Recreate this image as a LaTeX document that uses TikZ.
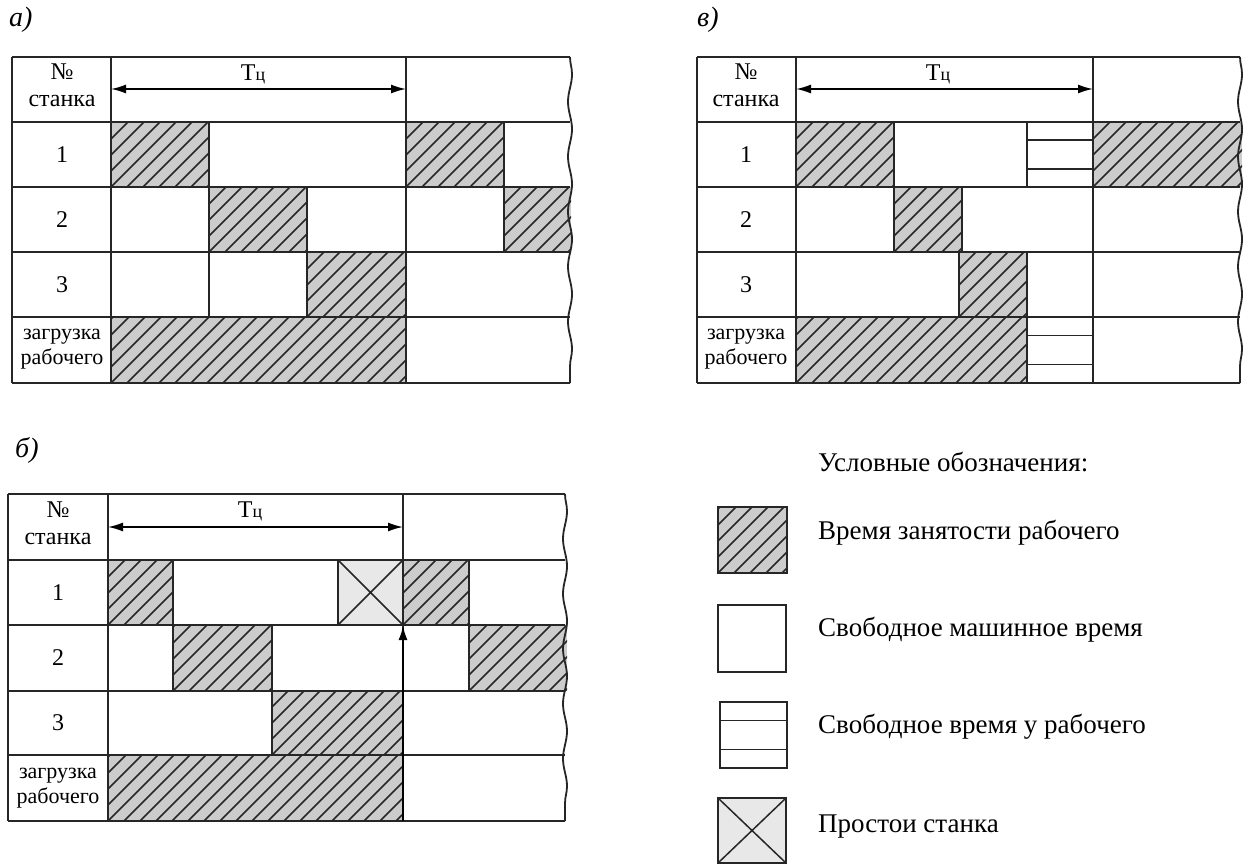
\documentclass[tikz,border=0pt]{standalone}
\usepackage{fontspec}
\setmainfont{Liberation Serif}
\usetikzlibrary{decorations.pathmorphing,arrows.meta}
\tikzset{
 gridline/.style={line width=1.8pt, draw=black!85},
 hatchline/.style={line width=1.5pt, draw=black!85},
 lbl/.style={font=\fontsize{24}{26}\selectfont, inner sep=0pt},
 smalllbl/.style={font=\fontsize{22}{25}\selectfont, align=center, inner sep=0pt},
 panellbl/.style={font=\fontsize{28}{30}\selectfont, inner sep=0pt, anchor=west},
 legendtext/.style={font=\fontsize{27}{29}\selectfont, inner sep=0pt, anchor=west},
 wavy/.style={line width=1.8pt, draw=black!85, decorate, decoration={snake, amplitude=2pt, segment length=55pt}},
 dimarrow/.style={line width=1.6pt, {Latex[length=15pt,width=9pt]}-{Latex[length=15pt,width=9pt]}},
 uparrow/.style={line width=2.6pt, -{Latex[length=15pt,width=9pt]}},
}
\newcommand\hcell[4]{%
 \fill[black!20] (#1,#2) rectangle (#3,#4);
 \begin{scope}
 \clip (#1,#2) rectangle (#3,#4);
 \pgfmathsetmacro\hh{#4-#2}
 \foreach \a in {-80,-64,...,320}{\draw[hatchline] (#1+\a,#4) -- ++(\hh,-\hh);}
 \end{scope}}
\newcommand\xcell[4]{%
 \fill[black!9] (#1,#2) rectangle (#3,#4);
 \draw[hatchline] (#1,#2) -- (#3,#4) (#1,#4) -- (#3,#2);}
\newcommand\fcell[4]{%
 \pgfmathsetmacro\ya{#2+0.28*(#4-#2)}
 \pgfmathsetmacro\yb{#2+0.72*(#4-#2)}
 \draw[gridline] (#1,\ya) -- (#3,\ya) (#1,\yb) -- (#3,\yb);}
\newcommand\tcname{Т{\fontsize{18}{18}\selectfont ц}}
\begin{document}
\begin{tikzpicture}[x=1pt,y=-1pt]
\useasboundingbox[fill=white] (0,0) rectangle (1246,864);

% ---------------- panel a ----------------
\node[panellbl] (la) at (9,20) {\textit{а)}};
\hcell{111}{122}{209}{187}
\hcell{406}{122}{504}{187}
\hcell{209}{187}{307}{252}
\hcell{504}{187}{571}{252}
\hcell{307}{252}{406}{317}
\hcell{111}{317}{406}{383}
\foreach \y in {57,122,187,252,317,383}{\draw[gridline] (12,\y) -- (570,\y);}
\draw[gridline] (12,57) -- (12,383) (111,57) -- (111,383) (406,57) -- (406,383);
\draw[gridline] (209,122) -- (209,252) (307,187) -- (307,317) (504,122) -- (504,252) (209,252) -- (209,317);
\draw[wavy] (570,57) -- (570,383);
\coordinate (a1) at (111,89); \coordinate (a2) at (406,89);
\draw[dimarrow] (a1) -- (a2);
\node[lbl] (atc) at (253,74) {\tcname};
\node[lbl] (an1) at (62,72) {№};
\node[lbl] (an2) at (62,101) {станка};
\node[lbl] (ar1) at (62,155) {1};
\node[lbl] (ar2) at (62,220) {2};
\node[lbl] (ar3) at (62,285) {3};
\node[smalllbl] (ar4) at (62,349) {загрузка\\рабочего};

% ---------------- panel v ----------------
\node[panellbl] (lv) at (697,20) {\textit{в)}};
\hcell{796}{122}{894}{187}
\hcell{1093}{122}{1242}{187}
\hcell{894}{187}{962}{252}
\hcell{959}{252}{1027}{317}
\hcell{796}{317}{1027}{383}
\fcell{1027}{122}{1093}{187}
\fcell{1027}{317}{1093}{383}
\foreach \y in {57,122,187,252,317,383}{\draw[gridline] (697,\y) -- (1240,\y);}
\draw[gridline] (697,57) -- (697,383) (796,57) -- (796,383) (1093,57) -- (1093,383);
\draw[gridline] (894,122) -- (894,252) (1027,122) -- (1027,187) (962,187) -- (962,252) (959,252) -- (959,317) (1027,252) -- (1027,383);
\draw[wavy] (1240,57) -- (1240,383);
\coordinate (v1) at (796,89); \coordinate (v2) at (1093,89);
\draw[dimarrow] (v1) -- (v2);
\node[lbl] (vtc) at (938,74) {\tcname};
\node[lbl] (vn1) at (746,72) {№};
\node[lbl] (vn2) at (746,101) {станка};
\node[lbl] (vr1) at (746,155) {1};
\node[lbl] (vr2) at (746,220) {2};
\node[lbl] (vr3) at (746,285) {3};
\node[smalllbl] (vr4) at (746,349) {загрузка\\рабочего};

% ---------------- panel b ----------------
\node[panellbl] (lb) at (15,450) {\textit{б)}};
\hcell{108}{560}{173}{625}
\xcell{338}{560}{403}{625}
\hcell{403}{560}{469}{625}
\hcell{173}{625}{272}{691}
\hcell{469}{625}{567}{691}
\hcell{272}{691}{403}{755}
\hcell{108}{755}{403}{821}
\foreach \y in {494,560,625,691,755,821}{\draw[gridline] (8,\y) -- (565,\y);}
\draw[gridline] (8,494) -- (8,821) (108,494) -- (108,821) (403,494) -- (403,821);
\draw[gridline] (173,560) -- (173,691) (338,560) -- (338,625) (469,560) -- (469,691) (272,625) -- (272,755);
\draw[wavy] (565,494) -- (565,821);
\coordinate (b1) at (108,527); \coordinate (b2) at (403,527);
\draw[dimarrow] (b1) -- (b2);
\coordinate (up0) at (403,821); \coordinate (up1) at (403,625);
\draw[uparrow] (up0) -- (up1);
\node[lbl] (btc) at (250,511) {\tcname};
\node[lbl] (bn1) at (58,510) {№};
\node[lbl] (bn2) at (58,539) {станка};
\node[lbl] (br1) at (58,593) {1};
\node[lbl] (br2) at (58,658) {2};
\node[lbl] (br3) at (58,723) {3};
\node[smalllbl] (br4) at (58,788) {загрузка\\рабочего};

% ---------------- legend ----------------
\node[legendtext] (lt) at (818,462) {Условные обозначения:};
\hcell{718}{507}{787}{573}
\draw[gridline] (718,507) rectangle (787,573);
\draw[gridline] (718,605) rectangle (786,672);
\draw[gridline] (720,702) rectangle (787,768);
\fcell{720}{702}{787}{768}
\xcell{718}{798}{786}{863}
\draw[gridline] (718,798) rectangle (786,863);
\node[legendtext] (l1) at (818,533) {Время занятости рабочего};
\node[legendtext] (l2) at (818,630) {Свободное машинное время};
\node[legendtext] (l3) at (818,727) {Свободное время у рабочего};
\node[legendtext] (l4) at (818,827) {Простои станка};
\end{tikzpicture}
\end{document}
